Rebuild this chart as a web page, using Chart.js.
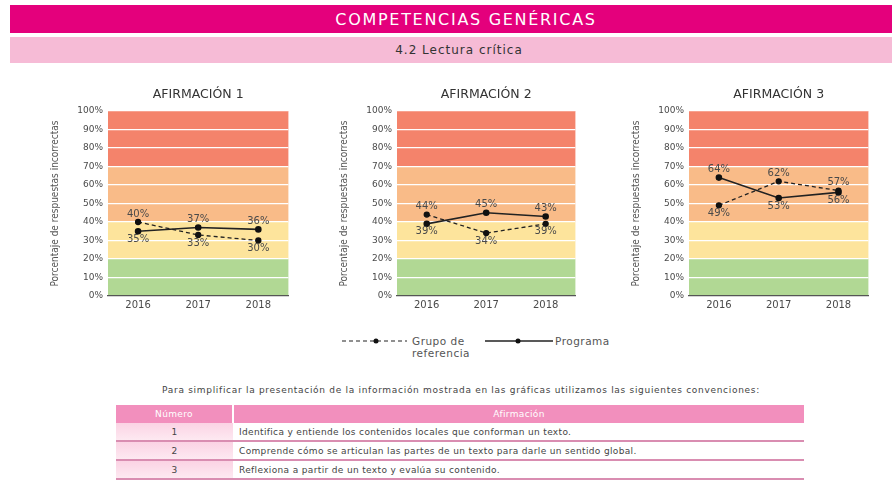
<!DOCTYPE html>
<html lang="es">
<head>
<meta charset="utf-8">
<title>Competencias genéricas - Lectura crítica</title>
<script src="https://cdn.jsdelivr.net/npm/chart.js@4.4.0/dist/chart.umd.min.js"></script>
<style>
    body {
        margin: 0;
        width: 892px;
        height: 483px;
        background: #fff;
        font-family: 'DejaVu Sans', sans-serif;
        position: relative;
        overflow: hidden;
    }
    .bar-main {
        position: absolute; left: 10px; top: 5px; width: 882px; height: 28px;
        background: #e4007c; color: #fff; text-align: center;
        font-size: 16px; line-height: 29px; padding-left: 30px; box-sizing: border-box;
        letter-spacing: 1.7px;
    }
    .bar-sub {
        position: absolute; left: 10px; top: 37px; width: 882px; height: 26px;
        background: #f6bbd6; color: #333; text-align: center;
        font-size: 12px; line-height: 26px; padding-left: 16px; box-sizing: border-box;
        letter-spacing: 1px;
    }
    .chart-box { position: absolute; top: 80px; height: 234px; }
    .legend {
        position: absolute; top: 332px; left: 340px; height: 30px;
        font-size: 10.5px; color: #555; letter-spacing: 0.5px;
    }
    .legend svg { position: absolute; top: 5px; }
    .legend span { position: absolute; top: 3px; line-height: 12px; }
    .note {
        position: absolute; top: 385px; left: 0; width: 892px; text-align: center;
        font-size: 9px; letter-spacing: 0.7px; color: #444; padding-left: 30px; box-sizing: border-box;
    }
    table {
        position: absolute; left: 116px; top: 405px; width: 688px;
        border-collapse: collapse; font-size: 9px; letter-spacing: 0.35px; color: #444;
    }
    th {
        background: #f28fbd; color: #fff; font-weight: normal; height: 18px; padding: 0;
    }
    th.num { width: 116px; border-right: 2px solid #fff; }
    td { height: 17px; padding: 0; border-bottom: 2px solid #d98db1; }
    td.num { text-align: center; background: linear-gradient(#fbd3e4, #fde9f1); }
    td.txt { padding-left: 6px; }
</style>
</head>
<body>
<div class="bar-main">COMPETENCIAS GENÉRICAS</div>
<div class="bar-sub">4.2 Lectura crítica</div>

<div class="chart-box" style="left:45px;width:249px"><canvas id="chart1"></canvas></div>
<div class="chart-box" style="left:334px;width:247px"><canvas id="chart2"></canvas></div>
<div class="chart-box" style="left:626px;width:248px"><canvas id="chart3"></canvas></div>

<div class="legend">
    <svg width="70" height="8" style="left:0"><line x1="2" y1="4" x2="67" y2="4" stroke="#222" stroke-width="1.2" stroke-dasharray="4,3"/><circle cx="36" cy="4" r="2.5" fill="#111"/></svg>
    <span style="left:72px">Grupo de<br>referencia</span>
    <svg width="70" height="8" style="left:144px"><line x1="1" y1="4" x2="69" y2="4" stroke="#222" stroke-width="1.5"/><circle cx="34" cy="4" r="2.5" fill="#111"/></svg>
    <span style="left:215px">Programa</span>
</div>

<div class="note">Para simplificar la presentación de la información mostrada en las gráficas utilizamos las siguientes convenciones:</div>

<table>
    <tr><th class="num">Número</th><th>Afirmación</th></tr>
    <tr><td class="num">1</td><td class="txt">Identifica y entiende los contenidos locales que conforman un texto.</td></tr>
    <tr><td class="num">2</td><td class="txt">Comprende cómo se articulan las partes de un texto para darle un sentido global.</td></tr>
    <tr><td class="num">3</td><td class="txt">Reflexiona a partir de un texto y evalúa su contenido.</td></tr>
</table>

<script>
// datos
const years = ['2016', '2017', '2018'];
const titles = ['AFIRMACIÓN 1', 'AFIRMACIÓN 2', 'AFIRMACIÓN 3'];
const grupoReferencia = [
    [40, 33, 30],
    [44, 34, 39],
    [49, 62, 57]
];
const programa = [
    [35, 37, 36],
    [39, 45, 43],
    [64, 53, 56]
];
const yMin = 0;
const yMax = 100;
const yStep = 10;
const bandLimits = [0, 20, 40, 70, 100];

const bandColors = ['#b1d894', '#fde49c', '#f9bb88', '#f4836b'];
const textColor = '#4a4a4a';

// franjas de color detras de la grafica
const bandsPlugin = {
    id: 'bands',
    beforeDraw(chart) {
        const { ctx, chartArea, scales } = chart;
        ctx.save();
        for (let i = 0; i < bandLimits.length - 1; i++) {
            const yTop = scales.y.getPixelForValue(bandLimits[i + 1]);
            const yBottom = scales.y.getPixelForValue(bandLimits[i]);
            ctx.fillStyle = bandColors[i];
            ctx.fillRect(chartArea.left, yTop, chartArea.right - chartArea.left, yBottom - yTop);
        }
        ctx.restore();
    }
};

// etiquetas de porcentaje: la serie mas alta arriba, la mas baja abajo
const valueLabels = {
    id: 'valueLabels',
    afterDatasetsDraw(chart) {
        const ctx = chart.ctx;
        const sets = chart.data.datasets;
        ctx.save();
        ctx.font = '10px "DejaVu Sans"';
        ctx.fillStyle = textColor;
        ctx.textAlign = 'center';
        sets.forEach((ds, i) => {
            const other = sets[1 - i];
            chart.getDatasetMeta(i).data.forEach((pt, j) => {
                const above = ds.data[j] >= other.data[j];
                ctx.textBaseline = above ? 'bottom' : 'top';
                ctx.fillText(ds.data[j] + '%', pt.x, above ? pt.y - 3 : pt.y + 3);
            });
        });
        ctx.restore();
    }
};

function makeChart(id, idx) {
    const ctx = document.getElementById(id);
    new Chart(ctx, {
        type: 'line',
        data: {
            labels: years,
            datasets: [{
                label: 'Grupo de referencia',
                data: grupoReferencia[idx],
                borderColor: '#222',
                borderWidth: 1.3,
                borderDash: [4, 3],
                pointBackgroundColor: '#111',
                pointBorderColor: '#111',
                pointRadius: 2.5,
                tension: 0
            }, {
                label: 'Programa',
                data: programa[idx],
                borderColor: '#222',
                borderWidth: 1.6,
                pointBackgroundColor: '#111',
                pointBorderColor: '#111',
                pointRadius: 2.5,
                tension: 0
            }]
        },
        options: {
            responsive: true,
            maintainAspectRatio: false,
            animation: false,
            layout: { padding: { right: 2, top: 0 } },
            plugins: {
                legend: { display: false },
                tooltip: { enabled: false },
                title: {
                    display: true,
                    fullSize: false,
                    text: titles[idx],
                    color: '#333',
                    font: { family: 'DejaVu Sans', size: 12.5, weight: 'normal' },
                    padding: { top: 7, bottom: 9 }
                }
            },
            scales: {
                x: {
                    offset: true,
                    grid: { display: false, drawTicks: false },
                    border: { color: '#555', width: 1.2 },
                    ticks: { color: textColor, font: { family: 'DejaVu Sans', size: 10 }, padding: 3 },
                    afterFit: (s) => { s.height = 18; }
                },
                y: {
                    min: yMin,
                    max: yMax,
                    border: { display: false },
                    grid: {
                        color: (c) => (c.tick.value === yMin ? 'rgba(0,0,0,0)' : '#ffffff'),
                        lineWidth: 1.2,
                        drawTicks: false
                    },
                    ticks: {
                        stepSize: yStep,
                        color: textColor,
                        font: { family: 'DejaVu Sans', size: 9 },
                        padding: 5,
                        callback: (v) => v + '%'
                    },
                    title: {
                        display: true,
                        text: 'Porcentaje de respuestas incorrectas',
                        color: '#555',
                        font: { family: 'DejaVu Sans Condensed', size: 10 },
                        padding: { top: 4, bottom: 0 }
                    },
                    afterFit: (s) => { s.width = 63; }
                }
            }
        },
        plugins: [bandsPlugin, valueLabels]
    });
}

makeChart('chart1', 0);
makeChart('chart2', 1);
makeChart('chart3', 2);
</script>
</body>
</html>
